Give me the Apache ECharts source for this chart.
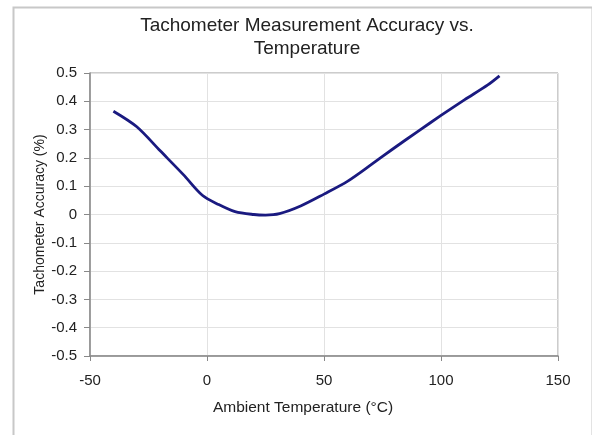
<!DOCTYPE html>
<html>
<head>
<meta charset="utf-8">
<script src="https://cdn.jsdelivr.net/npm/echarts@6/dist/echarts.min.js"></script>
<style>html,body{margin:0;padding:0;background:#fff}#c{width:592px;height:435px}</style>
</head>
<body>
<div id="c"></div>
<script>
var temperatures = [-40, -30, -20, -10, -2, 5, 12, 20, 25, 31, 40, 50, 60, 70, 80, 90, 100, 110, 120, 125];
var accuracy = [0.365, 0.31, 0.225, 0.14, 0.068, 0.035, 0.01, 0.0, -0.002, 0.003, 0.03, 0.072, 0.117, 0.175, 0.235, 0.293, 0.35, 0.405, 0.458, 0.49];
var xTicks = [-50, 0, 50, 100, 150];
var yTicks = [-0.5, -0.4, -0.3, -0.2, -0.1, 0, 0.1, 0.2, 0.3, 0.4, 0.5];

var chart = echarts.init(document.getElementById('c'));
var font = 'Liberation Sans, Arial, sans-serif';
chart.setOption({
  animation: false,
  graphic: [{
    type: 'rect', left: 11, top: 5, shape: {width: 579, height: 440},
    style: {fill: 'none', stroke: '#c8c8c8', lineWidth: 2}, silent: true
  }],
  title: {
    text: 'Tachometer Measurement Accuracy vs.\nTemperature',
    left: 302, top: 9, textAlign: 'center',
    textStyle: {fontFamily: font, fontWeight: 'normal', fontSize: 19, color: '#222', lineHeight: 23}
  },
  grid: {left: 90, right: 34, top: 73, bottom: 79, show: true, borderColor: '#999', borderWidth: 1},
  xAxis: {
    type: 'value', min: xTicks[0], max: xTicks[xTicks.length - 1], interval: 50,
    name: 'Ambient Temperature (°C)', nameLocation: 'middle', nameGap: 44, nameMoveOverlap: false,
    nameTextStyle: {fontFamily: font, fontSize: 15.5, color: '#222', padding: [0, 42, 0, 0]},
    axisLine: {show: true, onZero: false, lineStyle: {color: '#888', width: 1.5}},
    axisTick: {show: true, length: 5, lineStyle: {color: '#888'}},
    axisLabel: {fontFamily: font, fontSize: 15, color: '#222', margin: 17},
    splitLine: {show: true, lineStyle: {color: '#e2e2e2'}}
  },
  yAxis: {
    type: 'value', min: yTicks[0], max: yTicks[yTicks.length - 1], interval: 0.1,
    name: 'Tachometer Accuracy (%)', nameLocation: 'middle', nameGap: 43, nameMoveOverlap: false,
    nameTextStyle: {fontFamily: font, fontSize: 14, color: '#222'},
    axisLine: {show: true, onZero: false, lineStyle: {color: '#888', width: 1.5}},
    axisTick: {show: true, length: 6, lineStyle: {color: '#888'}},
    axisLabel: {fontFamily: font, fontSize: 15, color: '#222', margin: 13,
      formatter: function (v) { return String(Math.round(v * 10) / 10); }},
    splitLine: {show: true, lineStyle: {color: '#e2e2e2'}}
  },
  series: [{
    type: 'line', data: temperatures.map(function (t, i) { return [t, accuracy[i]]; }),
    smooth: 0.3, symbol: 'none',
    lineStyle: {color: '#1a1a80', width: 2.8}
  }]
});
</script>
</body>
</html>
